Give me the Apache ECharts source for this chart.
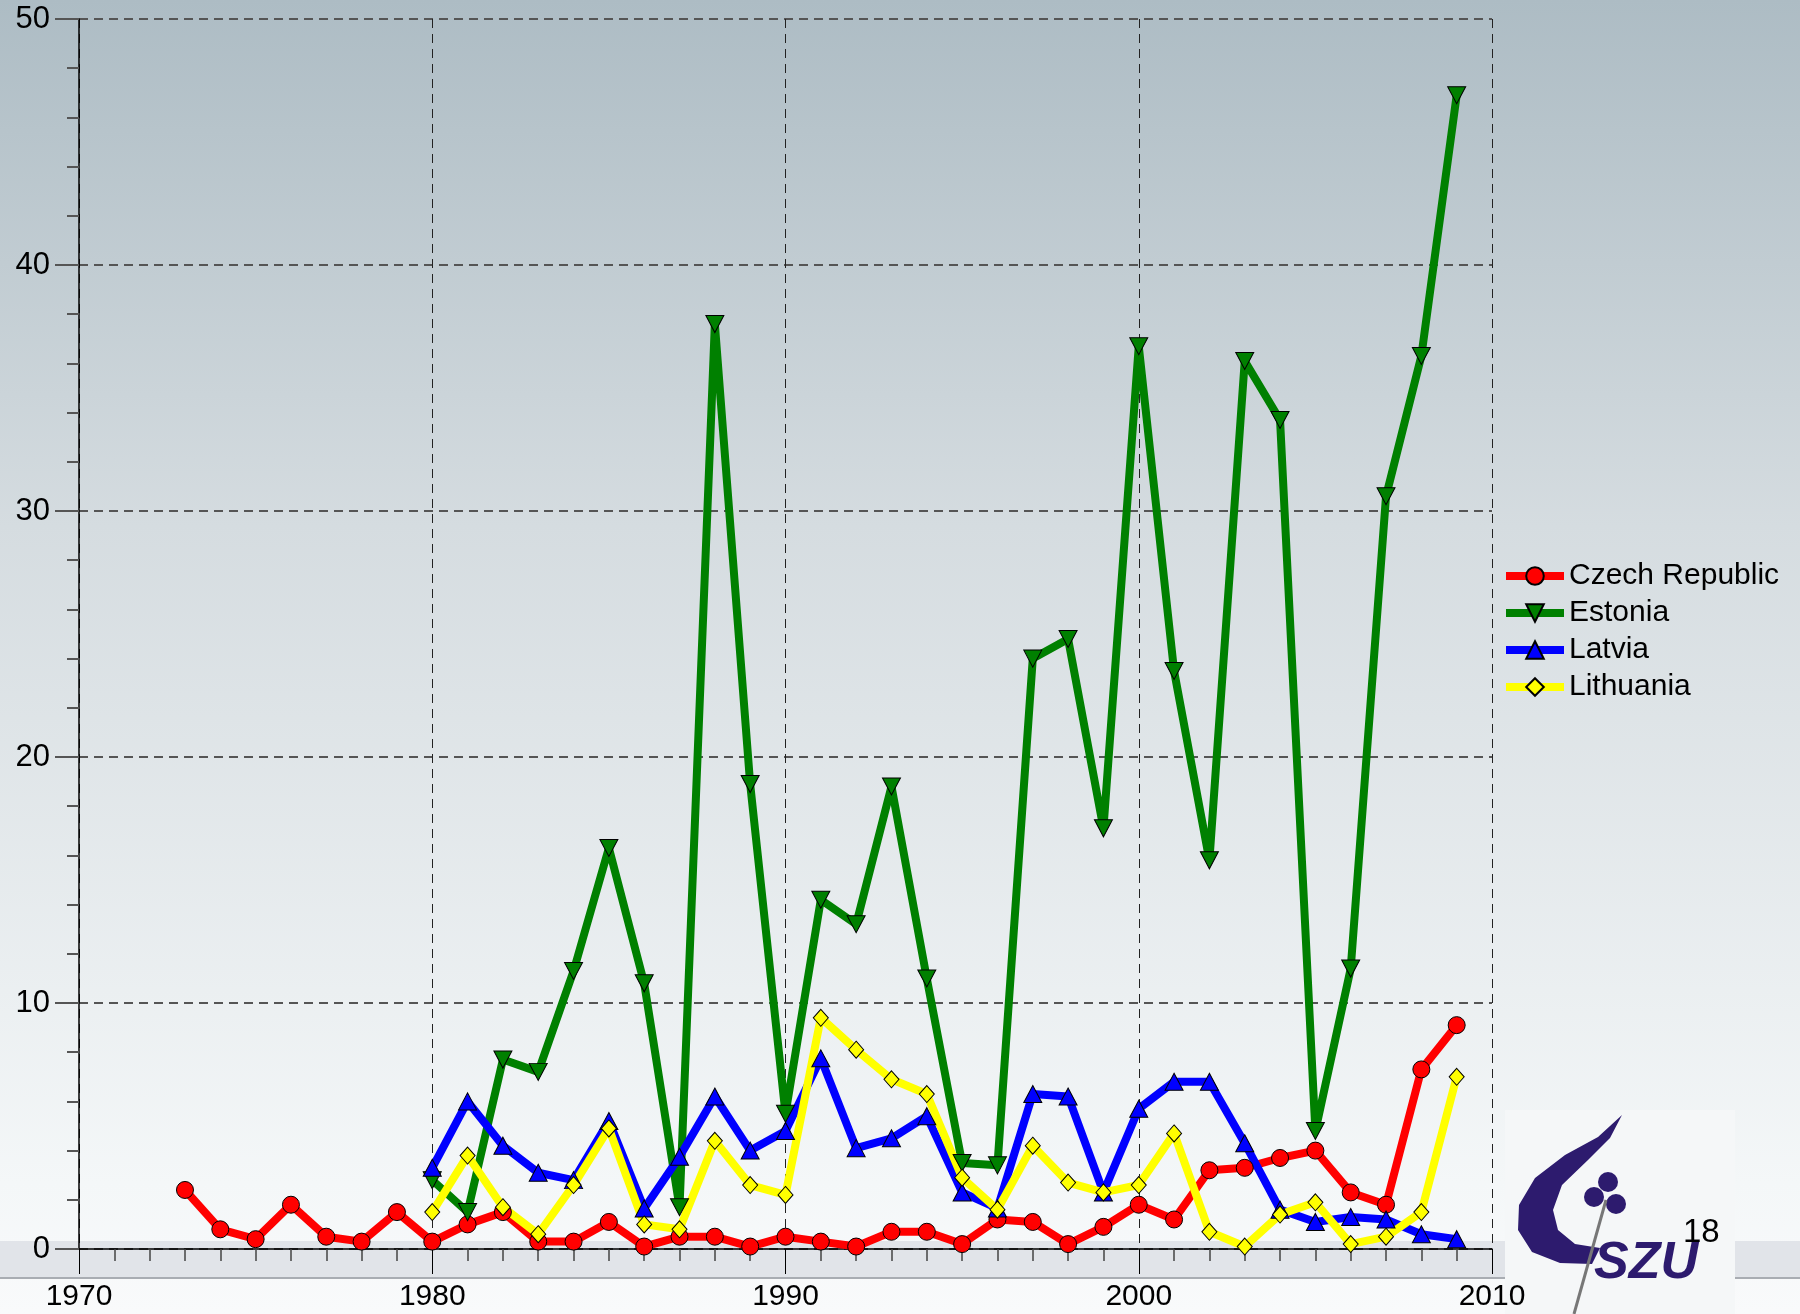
<!DOCTYPE html>
<html>
<head>
    <meta charset="utf-8">
    <title>Chart</title>
    <script src="https://cdn.jsdelivr.net/npm/echarts@6/dist/echarts.min.js"></script>
    <style>
        html, body { margin: 0; padding: 0; }
        #container { width: 1800px; height: 1314px; }
    </style>
</head>
<body>
<div id="container"></div>
<script>
    // values
    var czechStart = 1973;
    var czech = [2.4, 0.8, 0.4, 1.8, 0.5, 0.3, 1.5, 0.3, 1.0, 1.5, 0.3, 0.3, 1.1, 0.1, 0.5, 0.5, 0.1,
        0.5, 0.3, 0.1, 0.7, 0.7, 0.2, 1.2, 1.1, 0.2, 0.9, 1.8, 1.2, 3.2, 3.3, 3.7, 4.0, 2.3, 1.8, 7.3, 9.1];
    var balticStart = 1980;
    var estonia = [2.8, 1.5, 7.7, 7.2, 11.3, 16.3, 10.8, 1.7, 37.6, 18.9,
        5.5, 14.2, 13.2, 18.8, 11.0, 3.5, 3.4, 24.0, 24.8, 17.1,
        36.7, 23.5, 15.8, 36.1, 33.7, 4.8, 11.4, 30.6, 36.3, 46.9];
    var latvia = [3.3, 6.0, 4.2, 3.1, 2.8, 5.2, 1.65, 3.75, 6.2, 4.0,
        4.8, 7.75, 4.1, 4.5, 5.4, 2.3, 1.65, 6.3, 6.2, 2.3,
        5.7, 6.8, 6.8, 4.3, 1.6, 1.1, 1.3, 1.2, 0.6, 0.4];
    var lithuania = [1.5, 3.8, 1.7, 0.6, 2.6, 4.9, 1.0, 0.8, 4.4, 2.6,
        2.2, 9.4, 8.1, 6.9, 6.3, 2.9, 1.6, 4.2, 2.7, 2.3,
        2.6, 4.7, 0.7, 0.1, 1.4, 1.9, 0.2, 0.5, 1.5, 7.0];
    var seriesNames = ['Czech Republic', 'Estonia', 'Latvia', 'Lithuania'];

    function toPairs(start, values) {
        var out = [];
        for (var i = 0; i < values.length; i++) {
            out.push([start + i, values[i]]);
        }
        return out;
    }

    var font = 'Liberation Sans, Arial, sans-serif';
    var myChart = echarts.init(document.getElementById('container'));

    function lineSeries(name, color, symbol, size, data) {
        return {
            name: name,
            type: 'line',
            data: data,
            symbol: symbol,
            symbolSize: size,
            showAllSymbol: true,
            lineStyle: {color: color, width: 8},
            itemStyle: {color: color, borderColor: '#000', borderWidth: 1},
            emphasis: {disabled: true}
        };
    }

    // logo outline (decoration, not data)
    var logoShape = [[1622, 1115], [1598, 1137], [1565, 1155], [1535, 1178], [1519, 1205], [1518, 1230],
        [1532, 1252], [1560, 1263], [1592, 1264], [1600, 1248], [1575, 1244], [1558, 1230],
        [1553, 1210], [1562, 1185], [1588, 1160], [1610, 1138]];

    var option = {
        animation: false,
        backgroundColor: {
            type: 'linear', x: 0, y: 0, x2: 0, y2: 1,
            colorStops: [
                {offset: 0, color: '#adbcc4'},
                {offset: 0.4, color: '#d5dce0'},
                {offset: 0.9, color: '#f4f7f8'},
                {offset: 1, color: '#f9fafb'}
            ]
        },
        textStyle: {fontFamily: font},
        grid: {left: 79, right: 308, top: 19, bottom: 65, containLabel: false, outerBoundsMode: 'none'},
        legend: {
            orient: 'vertical',
            left: 1497,
            top: 556,
            itemWidth: 58,
            itemHeight: 22,
            itemGap: 7,
            data: seriesNames,
            lineStyle: {width: 8},
            textStyle: {fontSize: 30, color: '#000', fontFamily: font, lineHeight: 30}
        },
        xAxis: {
            type: 'value',
            min: 1970,
            max: 2010,
            interval: 10,
            axisLine: {show: true, onZero: false, lineStyle: {color: '#000', width: 1.5}},
            axisTick: {show: true, length: 25, lineStyle: {color: '#000', width: 1}},
            minorTick: {show: true, splitNumber: 10, length: 12, lineStyle: {color: '#444', width: 1.5}},
            axisLabel: {
                fontSize: 30, color: '#000', margin: 33, fontFamily: font,
                formatter: function (v) { return String(v); }
            },
            splitLine: {show: true, lineStyle: {color: '#222', width: 1, type: [9, 6]}}
        },
        yAxis: {
            type: 'value',
            min: 0,
            max: 50,
            interval: 10,
            axisLine: {show: true, onZero: false, lineStyle: {color: '#000', width: 1.5}},
            axisTick: {show: true, length: 24, lineStyle: {color: '#555', width: 2}},
            minorTick: {show: true, splitNumber: 5, length: 12, lineStyle: {color: '#555', width: 2}},
            axisLabel: {fontSize: 31, color: '#000', margin: 29, fontFamily: font},
            splitLine: {show: true, lineStyle: {color: '#555', width: 2, type: [9, 6]}}
        },
        graphic: [
            {
                type: 'rect', z: -5,
                shape: {x: 0, y: 1241, width: 1800, height: 36},
                style: {fill: '#e1e4e9'}
            },
            {
                type: 'rect', z: -5,
                shape: {x: 0, y: 1277, width: 1800, height: 2},
                style: {fill: '#a9adb3'}
            },
            {
                type: 'rect', z: -4,
                shape: {x: 1505, y: 1110, width: 230, height: 204},
                style: {fill: '#f5f7f8'}
            },
            {
                type: 'polygon', z: 11,
                shape: {points: logoShape},
                style: {fill: '#2d1b6e'}
            },
            {type: 'circle', z: 11, shape: {cx: 1594, cy: 1197, r: 10}, style: {fill: '#2d1b6e'}},
            {type: 'circle', z: 11, shape: {cx: 1608, cy: 1182, r: 10}, style: {fill: '#2d1b6e'}},
            {type: 'circle', z: 11, shape: {cx: 1616, cy: 1204, r: 10}, style: {fill: '#2d1b6e'}},
            {
                type: 'line', z: 11,
                shape: {x1: 1606, y1: 1200, x2: 1574, y2: 1314},
                style: {stroke: '#777', lineWidth: 3}
            },
            {
                type: 'text', z: 12,
                style: {
                    text: 'SZU', x: 1594, y: 1238, fill: '#2d1b6e',
                    font: 'italic bold 52px Liberation Sans, Arial, sans-serif'
                }
            },
            {
                type: 'text', z: 13,
                style: {
                    text: '18', x: 1683, y: 1216, fill: '#000',
                    font: '33px Liberation Sans, Arial, sans-serif'
                }
            }
        ],
        series: [
            lineSeries('Czech Republic', '#ff0000', 'circle', 17, toPairs(czechStart, czech)),
            lineSeries('Estonia', '#008000', 'path://M0,0 L10,0 L5,9 Z', [18, 17], toPairs(balticStart, estonia)),
            lineSeries('Latvia', '#0000ff', 'triangle', [18, 17], toPairs(balticStart, latvia)),
            lineSeries('Lithuania', '#ffff00', 'diamond', [15, 17], toPairs(balticStart, lithuania))
        ]
    };
    myChart.setOption(option);
</script>
</body>
</html>
